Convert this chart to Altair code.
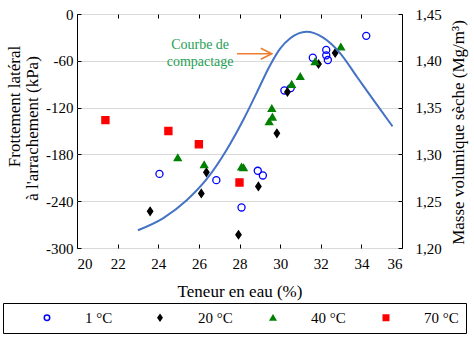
import altair as alt
import pandas as pd

FONT = "Liberation Serif"

# ---- data ----
series = ["1 °C", "20 °C", "40 °C", "70 °C"]

x_1c = [24.06, 26.86, 28.1, 28.9, 29.15, 30.21, 30.52, 31.61, 32.27, 32.27, 32.35, 34.24]
y_1c = [-205, -213, -248, -201, -207, -98, -95, -56, -46, -53, -59, -28]

x_20c = [23.6, 26.12, 26.37, 27.95, 28.93, 29.84, 30.36, 31.89, 32.71]
y_20c = [-253, -230, -203, -283, -221, -153, -100, -64, -50]

x_40c = [24.96, 26.26, 28.1, 28.2, 29.46, 29.59, 29.62, 30.57, 30.99, 31.72, 32.99]
y_40c = [-184, -193, -196, -197, -138, -121, -132, -90, -80, -61, -42]

x_70c = [21.4, 24.5, 26.0, 28.0]
y_70c = [-136, -150, -167, -216]

curve_x = [23.0, 24.25, 25.4, 26.4, 27.37, 28.19, 28.85, 29.5, 30.0, 30.5, 31.3, 32.1, 32.96, 33.78, 34.6, 35.53]
curve_y = [1.219, 1.232, 1.251, 1.274, 1.305, 1.337, 1.366, 1.395, 1.413, 1.424, 1.431, 1.425, 1.408, 1.383, 1.358, 1.330]

ann_x = [26.06, 26.06]
ann_y = [-40, -62]
ann_text = ["Courbe de", "compactage"]
arrow_x = [27.88, 29.59]
arrow_y = [-51, -51]
head_x = [29.59]
head_y = [-51]

x_ticks = [20, 22, 24, 26, 28, 30, 32, 34, 36]
left_ticks = [-300, -240, -180, -120, -60, 0]
right_ticks = [1.20, 1.25, 1.30, 1.35, 1.40, 1.45]

stroke_colors = ["#0000ff", "#000000", "#008000", "#ff0000"]
fill_colors = ["transparent", "#000000", "#008000", "#ff0000"]
shapes = ["circle", "M0,-1.1L0.75,0L0,1.1L-0.75,0Z", "triangle-up", "square"]

rows = []
for s, xs_, ys_ in zip(series, [x_1c, x_20c, x_40c, x_70c], [y_1c, y_20c, y_40c, y_70c]):
    for a, b in zip(xs_, ys_):
        rows.append({"serie": s, "w": a, "f": b})
pts = pd.DataFrame(rows)
curve_df = pd.DataFrame({"w": curve_x, "d": curve_y})
ann_df = pd.DataFrame({"w": ann_x, "f": ann_y, "t": ann_text})
arrow_df = pd.DataFrame({"w": arrow_x, "f": arrow_y})
head_df = pd.DataFrame({"w": head_x, "f": head_y})


def xs():
    return alt.Scale(domain=[20, 36], nice=False, zero=False)


def ls():
    return alt.Scale(domain=[-300, 0], nice=False, zero=False)


def rs():
    return alt.Scale(domain=[1.20, 1.45], nice=False, zero=False)


legend = alt.Legend(
    orient="none", legendX=-74, legendY=289, direction="horizontal", columns=4,
    title=None, strokeColor="black", padding=7, symbolOffset=29.5, labelOffset=30.5,
    columnPadding=3, gridAlign="all", labelFont=FONT, labelFontSize=15,
    labelColor="black", symbolSize=30, symbolStrokeWidth=1.5,
)

points = alt.Chart(pts).mark_point(size=50, strokeWidth=1.3, opacity=1).encode(
    x=alt.X("w:Q", scale=xs(), axis=alt.Axis(
        orient="bottom", values=x_ticks, offset=-4, tickSize=4, tickColor="black",
        domain=False, grid=False, labelFont=FONT, labelFontSize=15, labelColor="black",
        labelPadding=8, title="Teneur en eau (%)", titleFont=FONT, titleFontSize=17,
        titleFontWeight="normal", titleColor="black", titleX=162.5, titleY=47,
        titleBaseline="middle", titleAlign="center")),
    y=alt.Y("f:Q", scale=ls(), axis=alt.Axis(
        orient="left", values=left_ticks, offset=-4, tickSize=4, tickColor="black",
        domain=False, grid=False, labelExpr="'' + datum.value", labelFont=FONT,
        labelFontSize=15, labelColor="black", labelPadding=4,
        title="Frottement latéral", titleFont=FONT, titleFontSize=17,
        titleFontWeight="normal", titleColor="black", titleAngle=270, titleX=-67,
        titleY=92, titleAlign="center", titleBaseline="middle")),
    stroke=alt.Stroke("serie:N", scale=alt.Scale(domain=series, range=stroke_colors), legend=legend),
    fill=alt.Fill("serie:N", scale=alt.Scale(domain=series, range=fill_colors), legend=legend),
    shape=alt.Shape("serie:N", scale=alt.Scale(domain=series, range=shapes), legend=legend),
)

curve = alt.Chart(curve_df).mark_line(color="#4472c4", strokeWidth=2, interpolate="monotone").encode(
    x=alt.X("w:Q", scale=xs(), axis=alt.Axis(
        orient="top", values=x_ticks, offset=-4, tickSize=4, tickColor="black",
        domain=False, grid=False, labels=False, title=None)),
    y=alt.Y("d:Q", scale=rs(), axis=alt.Axis(
        orient="right", values=right_ticks, offset=-4, tickSize=4, tickColor="black",
        domain=False, grid=False,
        labelExpr="replace(format(datum.value, '.2f'), '.', ',')",
        labelFont=FONT, labelFontSize=15, labelColor="black", labelPadding=13,
        title="Masse volumique sèche (Mg/m³)", titleFont=FONT, titleFontSize=17,
        titleFontWeight="normal", titleColor="black", titleAngle=270, titleX=60,
        titleY=118, titleAlign="center", titleBaseline="middle")),
)

ann = alt.Chart(ann_df).mark_text(font=FONT, fontSize=14, color="#1fa055", align="center", baseline="middle").encode(
    x=alt.X("w:Q", scale=xs(), axis=None),
    y=alt.Y("f:Q", scale=ls(), axis=alt.Axis(
        orient="left", values=left_ticks, grid=True, gridColor="#d9d9d9", ticks=False,
        labels=False, domain=False, title="à l'arrachement (kPa)", titleFont=FONT,
        titleFontSize=17, titleFontWeight="normal", titleColor="black", titleAngle=270,
        titleX=-45, titleY=114, titleAlign="center", titleBaseline="middle")),
    text="t:N",
)

arrow_line = alt.Chart(arrow_df).mark_line(color="#ed7d31", strokeWidth=1.6).encode(
    x=alt.X("w:Q", scale=xs(), axis=None),
    y=alt.Y("f:Q", scale=ls(), axis=None),
)

arrow_head = alt.Chart(head_df).mark_point(
    shape="M-2,-1L0,0L-2,1", size=121, filled=False, color="#ed7d31", strokeWidth=1.6, opacity=1
).encode(
    x=alt.X("w:Q", scale=xs(), axis=None),
    y=alt.Y("f:Q", scale=ls(), axis=None),
)

chart = alt.layer(ann, points, curve, arrow_line, arrow_head).resolve_scale(
    x="independent", y="independent"
).properties(
    width=325, height=234,
    autosize=alt.AutoSizeParams(type="none"),
    padding={"left": 77, "top": 14, "right": 72, "bottom": 91},
).configure_view(stroke="black", strokeWidth=1)

chart.save("out.html", embed_options={"renderer": "svg", "actions": False})
